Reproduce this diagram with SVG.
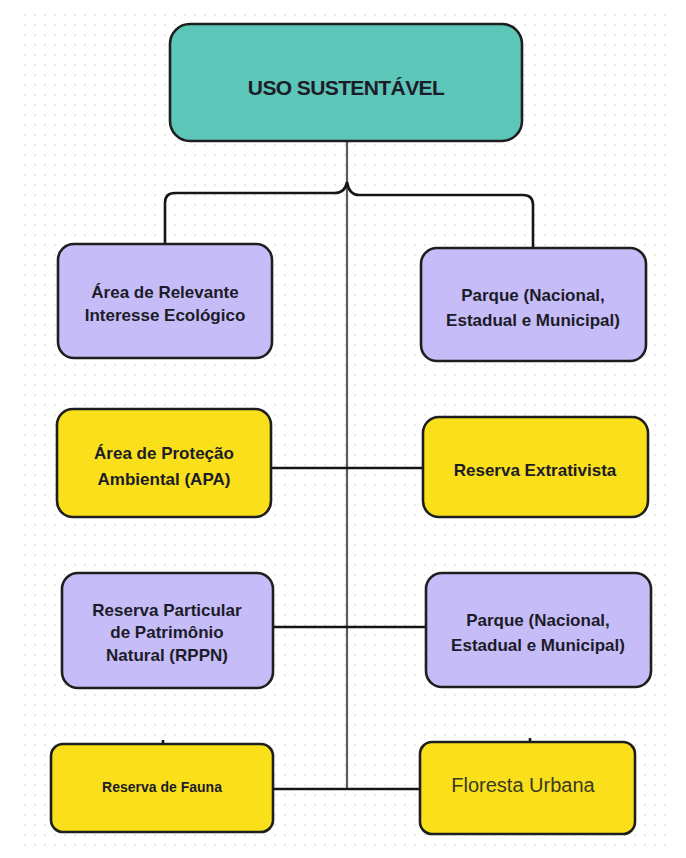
<svg xmlns="http://www.w3.org/2000/svg" width="686" height="858" viewBox="0 0 686 858">
  <defs>
    <pattern id="dots" x="0" y="0" width="10" height="10" patternUnits="userSpaceOnUse">
      <circle cx="5" cy="5" r="0.9" fill="#dedede"/>
    </pattern>
    <style>
      .box { stroke: #1e1e1e; stroke-width: 2.6; }
      .teal { fill: #5cc6b9; }
      .purple { fill: #c6bdf8; }
      .yellow { fill: #f9e01a; }
      .lbl { font-family: "Liberation Sans", Arial, sans-serif; font-weight: bold; font-size: 17px; fill: #1c1c28; text-anchor: middle; }
      .conn { fill: none; stroke: #151515; stroke-width: 2.6; }
      .spine { fill: none; stroke: #5a5a5a; stroke-width: 2.2; }
    </style>
  </defs>
  <rect x="0" y="0" width="686" height="858" fill="#ffffff"/>
  <rect x="20" y="10" width="650" height="840" fill="url(#dots)"/>

  <g id="connectors">
    <line class="spine" x1="347" y1="141" x2="347" y2="789"/>
    <path class="conn" d="M165,244 V203 Q165,193 175,193 H335 Q345,193 347,182 Q349,195 359,195 H523 Q533,195 533,205 V248"/>
    <line class="conn" x1="271" y1="468" x2="423" y2="468"/>
    <line class="conn" x1="273" y1="627" x2="426" y2="627"/>
    <line class="conn" x1="273" y1="789" x2="420" y2="789"/>
    <line class="conn" x1="163" y1="740" x2="163" y2="744" stroke-width="1.5"/>
    <line class="conn" x1="530" y1="738" x2="530" y2="742" stroke-width="1.5"/>
  </g>

  <g id="uso-sustentavel">
    <rect class="box teal" x="170" y="24" width="352" height="117" rx="20"/>
    <text class="lbl" x="346" y="95" style="font-size:21px" letter-spacing="-0.6">USO SUSTENTÁVEL</text>
  </g>

  <g id="arie">
    <rect class="box purple" x="58" y="244" width="214" height="114" rx="16"/>
    <text class="lbl" x="165" y="298">Área de Relevante</text>
    <text class="lbl" x="165" y="321">Interesse Ecológico</text>
  </g>

  <g id="parque-1">
    <rect class="box purple" x="421" y="248" width="225" height="113" rx="16"/>
    <text class="lbl" x="533" y="301">Parque (Nacional,</text>
    <text class="lbl" x="533" y="326">Estadual e Municipal)</text>
  </g>

  <g id="apa">
    <rect class="box yellow" x="57" y="409" width="214" height="108" rx="16"/>
    <text class="lbl" x="164" y="459">Área de Proteção</text>
    <text class="lbl" x="164" y="485">Ambiental (APA)</text>
  </g>

  <g id="reserva-extrativista">
    <rect class="box yellow" x="423" y="417" width="225" height="100" rx="16"/>
    <text class="lbl" x="535" y="476">Reserva Extrativista</text>
  </g>

  <g id="rppn">
    <rect class="box purple" x="62" y="573" width="211" height="115" rx="16"/>
    <text class="lbl" x="167" y="616">Reserva Particular</text>
    <text class="lbl" x="167" y="638">de Patrimônio</text>
    <text class="lbl" x="167" y="661">Natural (RPPN)</text>
  </g>

  <g id="parque-2">
    <rect class="box purple" x="426" y="573" width="225" height="114" rx="16"/>
    <text class="lbl" x="538" y="626">Parque (Nacional,</text>
    <text class="lbl" x="538" y="651">Estadual e Municipal)</text>
  </g>

  <g id="reserva-fauna">
    <rect class="box yellow" x="51" y="744" width="222" height="88" rx="12"/>
    <text class="lbl" x="162" y="792" style="font-size:14px">Reserva de Fauna</text>
  </g>

  <g id="floresta-urbana">
    <rect class="box yellow" x="420" y="742" width="215" height="92" rx="12"/>
    <text class="lbl" x="523" y="792" style="font-size:20px;font-weight:normal;fill:#3a3a22">Floresta Urbana</text>
  </g>
</svg>
